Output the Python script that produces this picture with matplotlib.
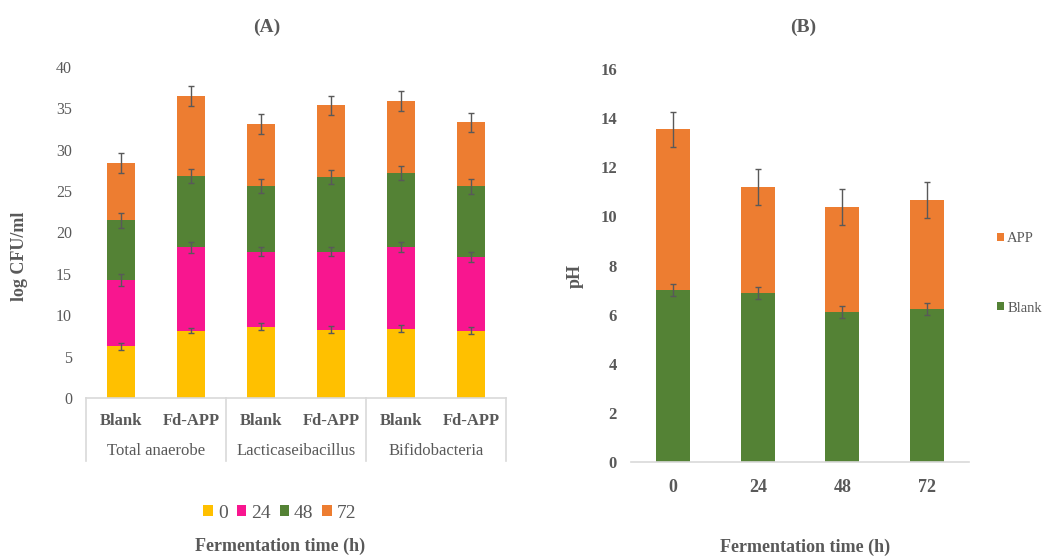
import matplotlib
matplotlib.use("Agg")
import matplotlib.pyplot as plt
import matplotlib.transforms as mtransforms
from matplotlib.lines import Line2D
from matplotlib.patches import Patch
import numpy as np

plt.rcParams["font.family"] = ["Liberation Serif", "DejaVu Serif"]

# ---------------- Panel A data: viable counts (log CFU/ml), stacked by time ----------------
groups = ["Total anaerobe", "Lacticaseibacillus", "Bifidobacteria"]
treatments = ["Blank", "Fd-APP"]
time_labels = ["0", "24", "48", "72"]

cfu_0h = [6.25, 8.14, 8.62, 8.26, 8.38, 8.14]
cfu_24h = [8.02, 10.06, 9.08, 9.44, 9.88, 8.91]
cfu_48h = [7.23, 8.60, 7.90, 9.00, 8.94, 8.55]
cfu_72h = [6.90, 9.70, 7.50, 8.65, 8.70, 7.70]

err_0h = [0.42, 0.34, 0.42, 0.46, 0.44, 0.42]
err_24h = [0.69, 0.62, 0.58, 0.58, 0.60, 0.62]
err_48h = [0.90, 0.87, 0.88, 0.89, 0.85, 0.89]
err_72h = [1.20, 1.22, 1.20, 1.17, 1.23, 1.20]

# ---------------- Panel B data: pH, stacked Blank + APP ----------------
ph_times = ["0", "24", "48", "72"]
ph_blank = [7.00, 6.87, 6.11, 6.23]
ph_app = [6.54, 4.33, 4.27, 4.44]
err_blank = [0.23, 0.24, 0.25, 0.24]
err_app = [0.72, 0.73, 0.73, 0.72]

# ---------------- styling ----------------
c_yellow = "#FFC000"
c_pink = "#F8168F"
c_green = "#548235"
c_orange = "#ED7D31"
c_text = "#595959"
c_axis = "#D9D9D9"
c_err = "#595959"

fig = plt.figure(figsize=(10.45, 5.56), dpi=100)
W, H = 1045, 556


def px_axes(left, top, right, bottom):
    return fig.add_axes([left / W, 1 - bottom / H, (right - left) / W, (bottom - top) / H])


err_kw = dict(ecolor=c_err, elinewidth=1.0, capsize=2.5, capthick=1.0)

# ================= Panel A =================
axA = px_axes(86, 67, 506, 398)
xA = np.arange(len(groups) * len(treatments))
segments = [cfu_0h, cfu_24h, cfu_48h, cfu_72h]
errors = [err_0h, err_24h, err_48h, err_72h]
colors = [c_yellow, c_pink, c_green, c_orange]
bottom = np.zeros(len(xA))
for vals, errs, col, lab in zip(segments, errors, colors, time_labels):
    vals = np.array(vals)
    axA.bar(xA, vals, 0.4, bottom=bottom, color=col, label=lab, zorder=2)
    top = bottom + vals
    axA.errorbar(xA, top, yerr=errs, fmt="none", zorder=3, **err_kw)
    bottom = top

axA.set_xlim(-0.5, len(xA) - 0.5)
axA.set_ylim(0, 40)
axA.set_yticks(np.arange(0, 41, 5))
axA.tick_params(axis="y", length=0, labelsize=11.5, labelcolor=c_text, pad=10)
for s in ["top", "right", "left"]:
    axA.spines[s].set_visible(False)
axA.spines["bottom"].set_color(c_axis)
axA.spines["bottom"].set_linewidth(1.2)

axA.set_xticks(xA)
axA.set_xticklabels(treatments * len(groups), fontweight="bold", fontsize=12)
axA.tick_params(axis="x", length=0, labelcolor=c_text, pad=11)

trans = mtransforms.blended_transform_factory(axA.transData, axA.transAxes)
depth = (461 - 398) / (398 - 67)
for b in [-0.5, 1.5, 3.5, 5.5]:
    axA.add_line(Line2D([b, b], [0, -depth], transform=trans, color=c_axis,
                        lw=1.2, clip_on=False))
for i, g in enumerate(groups):
    axA.text(2 * i + 0.5, -(451 - 398) / (398 - 67), g, transform=trans,
             ha="center", va="center", fontsize=12, color=c_text)

fig.text(267 / W, 1 - 27 / H, "(A)", ha="center", va="center", fontsize=14,
         fontweight="bold", color=c_text)
fig.text(20 / W, 1 - 256 / H, "log CFU/ml", ha="center", va="center", rotation=90,
         fontsize=13, fontweight="bold", color=c_text)
fig.text(280 / W, 1 - 546 / H, "Fermentation time (h)", ha="center", va="center",
         fontsize=13, fontweight="bold", color=c_text)

handlesA = [Patch(facecolor=c, edgecolor="none") for c in colors]
fig.legend(handlesA, time_labels, loc="center", bbox_to_anchor=(280 / W, 1 - 513 / H),
           ncol=4, frameon=False, fontsize=14, handlelength=0.5, handleheight=0.5,
           handletextpad=0.25, columnspacing=0.45, labelcolor=c_text)

# ================= Panel B =================
axB = px_axes(631, 69, 969, 462)
xB = np.arange(len(ph_times))
axB.bar(xB, ph_blank, 0.4, color=c_green, label="Blank", zorder=2)
axB.errorbar(xB, ph_blank, yerr=err_blank, fmt="none", zorder=3, **err_kw)
topB = np.array(ph_blank) + np.array(ph_app)
axB.bar(xB, ph_app, 0.4, bottom=ph_blank, color=c_orange, label="APP", zorder=2)
axB.errorbar(xB, topB, yerr=err_app, fmt="none", zorder=3, **err_kw)

axB.set_xlim(-0.5, len(xB) - 0.5)
axB.set_ylim(0, 16)
axB.set_yticks(np.arange(0, 17, 2))
axB.set_xticks(xB)
axB.set_xticklabels(ph_times)
for lab in axB.get_xticklabels() + axB.get_yticklabels():
    lab.set_fontweight("bold")
axB.tick_params(axis="y", length=0, labelsize=12, labelcolor=c_text, pad=10)
axB.tick_params(axis="x", length=0, labelsize=13, labelcolor=c_text, pad=12)
for s in ["top", "right", "left"]:
    axB.spines[s].set_visible(False)
axB.spines["bottom"].set_color(c_axis)
axB.spines["bottom"].set_linewidth(1.2)

fig.text(803 / W, 1 - 27 / H, "(B)", ha="center", va="center", fontsize=14,
         fontweight="bold", color=c_text)
fig.text(575 / W, 1 - 276 / H, "pH", ha="center", va="center", rotation=90,
         fontsize=13, fontweight="bold", color=c_text)
fig.text(805 / W, 1 - 547 / H, "Fermentation time (h)", ha="center", va="center",
         fontsize=13, fontweight="bold", color=c_text)

for lab, col, yy in [("APP", c_orange, 239), ("Blank", c_green, 308)]:
    fig.legend([Patch(facecolor=col, edgecolor="none")], [lab], loc="center left",
               bbox_to_anchor=(997 / W, 1 - yy / H), frameon=False, fontsize=10.5,
               handlelength=0.5, handleheight=0.5, handletextpad=0.2, borderpad=0,
               borderaxespad=0, labelcolor=c_text)

fig.savefig("out.png", dpi=100)
